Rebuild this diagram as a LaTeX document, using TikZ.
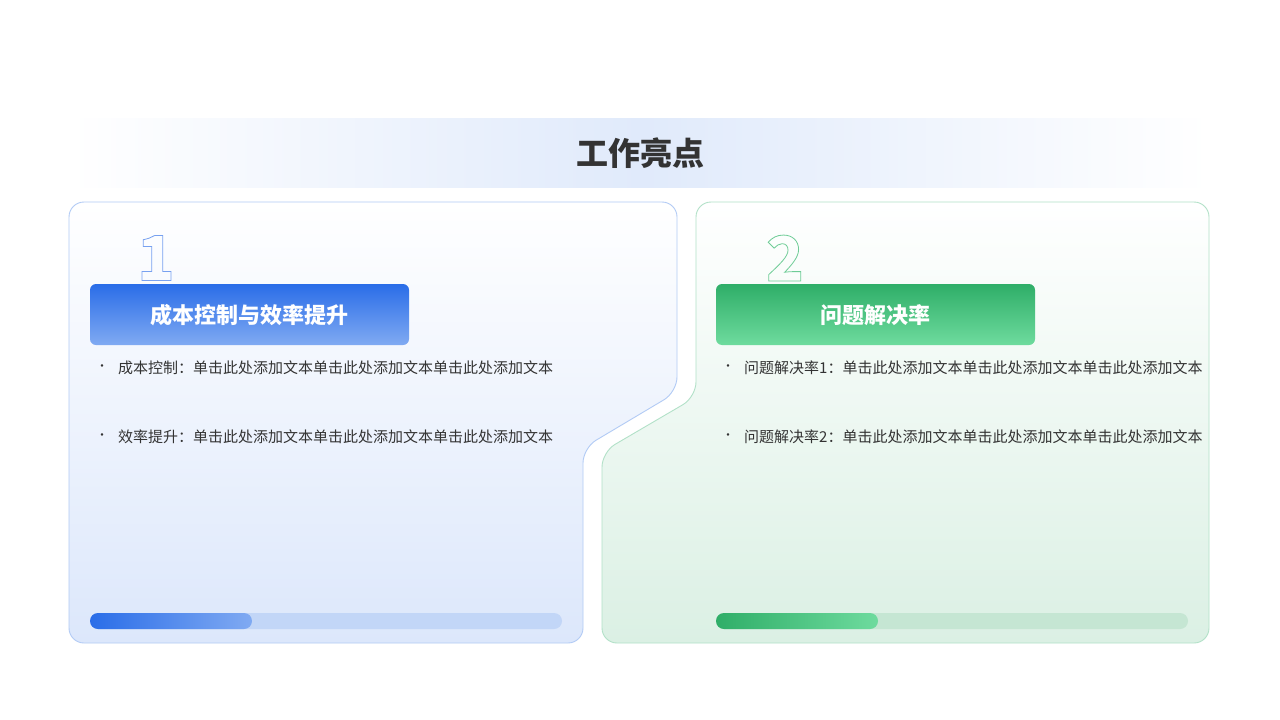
\documentclass[tikz,border=0pt]{standalone}
\usepackage{fontspec}
\setmainfont{Noto Sans CJK SC}
\definecolor{bA}{HTML}{2A6DE8}\definecolor{bB}{HTML}{80AAF2}
\definecolor{gA}{HTML}{2FAE68}\definecolor{gB}{HTML}{6EDB9E}
\definecolor{txt}{HTML}{333333}
\definecolor{band}{RGB}{224,234,251}
\definecolor{lpb}{RGB}{220,231,251}\definecolor{lpd}{RGB}{178,203,245}
\definecolor{rpb}{RGB}{219,240,228}\definecolor{rpd}{RGB}{178,225,200}
\definecolor{ltr}{RGB}{194,214,247}\definecolor{rtr}{RGB}{197,230,211}
\definecolor{n1c}{RGB}{120,160,240}\definecolor{n2c}{RGB}{110,205,150}
\tikzset{
 lbl/.style={text=white,font=\bfseries\fontsize{22}{26}\selectfont,anchor=center},
 itm/.style={text=txt,font=\fontsize{15}{22}\selectfont,anchor=north west,align=left,text width=440pt,inner sep=0pt},
 dot/.style={text=txt,font=\fontsize{12}{22}\selectfont,anchor=north,inner sep=0pt},
 num/.style={font=\bfseries\itshape\fontsize{62}{62}\selectfont,inner sep=0pt}
}
\newcommand\outl[2]{\special{pdf:code q 1 Tr 0.8 w #1 RG}#2\special{pdf:code Q 0 Tr}}
\begin{document}
\begin{tikzpicture}[x=1pt,y=-1pt]
\useasboundingbox (0,0) rectangle (1280,720);
\fill[white] (0,0) rectangle (1280,720);
\shade[left color=white,right color=white,middle color=band] (70,118) rectangle (1210,187);
\node[font=\bfseries\fontsize{32}{36}\selectfont,text=txt] (title) at (640,153) {工作亮点};
\shade[top color=white,bottom color=lpb,draw=lpd,line width=0.9pt,rounded corners=15]
 (69,202) -- (677,202) -- (677,392) -- (583,448) -- (583,643) -- (69,643) -- cycle;
\shade[top color=white,bottom color=rpb,draw=rpd,line width=0.9pt,rounded corners=15]
 (696,202) -- (1209,202) -- (1209,643) -- (602,643) -- (602,452) -- (696,397) -- cycle;
\node[num,text=n1c] (n1) at (156,258) {\outl{0.47 0.63 0.94}{1}};
\node[num,text=n2c] (n2) at (785,258) {\outl{0.43 0.80 0.59}{2}};
\shade[top color=bA,bottom color=bB,rounded corners=6] (90,284) rectangle (409,345);
\node[lbl] (l1) at (249.5,315) {成本控制与效率提升};
\shade[top color=gA,bottom color=gB,rounded corners=6] (716,284) rectangle (1035,345);
\node[lbl] (l2) at (875.5,315) {问题解决率};
\node[dot] (d1) at (102,364) {•};
\node[itm] (t1) at (118,361) {成本控制：单击此处添加文本单击此处添加文本单击此处添加文本};
\node[dot] (d2) at (102,433) {•};
\node[itm] (t2) at (118,430) {效率提升：单击此处添加文本单击此处添加文本单击此处添加文本};
\node[dot] (d3) at (728,364) {•};
\node[itm] (t3) at (744,361) {问题解决率1：单击此处添加文本单击此处添加文本单击此处添加文本};
\node[dot] (d4) at (728,433) {•};
\node[itm] (t4) at (744,430) {问题解决率2：单击此处添加文本单击此处添加文本单击此处添加文本};
\fill[ltr,rounded corners=8] (90,613) rectangle (562,629);
\shade[left color=bA,right color=bB,rounded corners=8] (90,613) rectangle (252,629);
\fill[rtr,rounded corners=8] (716,613) rectangle (1188,629);
\shade[left color=gA,right color=gB,rounded corners=8] (716,613) rectangle (878,629);
\end{tikzpicture}
\end{document}
